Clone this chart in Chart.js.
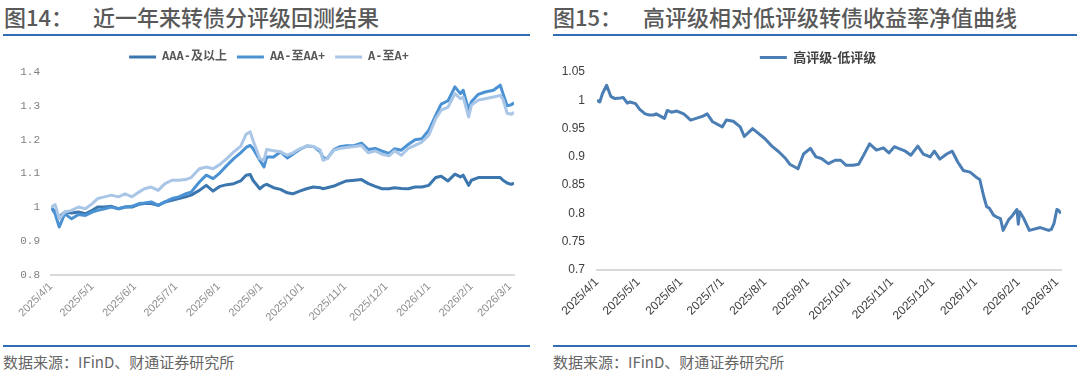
<!DOCTYPE html>
<html>
<head>
<meta charset="utf-8">
<script src="https://cdn.jsdelivr.net/npm/chart.js@4.4.1/dist/chart.umd.min.js"></script>
<style>
  body { margin: 0; background: #fff; width: 1080px; height: 378px; position: relative; overflow: hidden; font-family: "Noto Sans CJK SC", sans-serif; }
  .ttl { position: absolute; top: 2px; font-size: 22px; line-height: 29px; color: #595959; font-weight: 500; white-space: nowrap; }
  .rule { position: absolute; height: 2px; background: #2f6db5; }
  .src { position: absolute; top: 352px; font-size: 15px; line-height: 20px; color: #666; white-space: nowrap; }
  .box { position: absolute; top: 40px; height: 300px; }
</style>
</head>
<body>
<div class="ttl" style="left:4px">图14：</div>
<div class="ttl" style="left:93px">近一年来转债分评级回测结果</div>
<div class="ttl" style="left:553px">图15：</div>
<div class="ttl" style="left:643px">高评级相对低评级转债收益率净值曲线</div>
<div class="rule" style="left:3px;width:527px;top:34px"></div>
<div class="rule" style="left:553px;width:524px;top:34px"></div>
<div class="box" style="left:0;width:540px"><canvas id="c14"></canvas></div>
<div class="box" style="left:545px;width:535px"><canvas id="c15"></canvas></div>
<div class="rule" style="left:3px;width:527px;top:345px"></div>
<div class="rule" style="left:553px;width:524px;top:345px"></div>
<div class="src" style="left:3px">数据来源：IFinD、财通证券研究所</div>
<div class="src" style="left:553px">数据来源：IFinD、财通证券研究所</div>

<script>
// 图14 数据
const dates14 = ['2025-04-01','2025-04-04','2025-04-07','2025-04-11','2025-04-16','2025-04-21','2025-04-26','2025-05-01','2025-05-05','2025-05-10','2025-05-15','2025-05-20','2025-05-25','2025-05-30','2025-06-04','2025-06-08','2025-06-13','2025-06-18','2025-06-23','2025-06-28','2025-07-03','2025-07-08','2025-07-12',
  '2025-07-18','2025-07-23','2025-07-28','2025-08-02','2025-08-07','2025-08-12','2025-08-17','2025-08-21','2025-08-24','2025-08-26','2025-08-31','2025-09-03','2025-09-05','2025-09-10','2025-09-15','2025-09-20','2025-09-24','2025-09-29','2025-10-04','2025-10-09','2025-10-14','2025-10-16','2025-10-19','2025-10-24','2025-10-28','2025-11-02',
  '2025-11-08','2025-11-13','2025-11-18','2025-11-23','2025-11-28','2025-12-03','2025-12-07','2025-12-12','2025-12-17','2025-12-22','2025-12-27','2026-01-01','2026-01-06','2026-01-10','2026-01-15','2026-01-20','2026-01-24','2026-01-26','2026-01-30','2026-02-01','2026-02-06','2026-02-11','2026-02-17','2026-02-22','2026-02-24','2026-02-27','2026-03-02','2026-03-04'];
const aaaPlus = [1.000,0.986,0.971,0.986,0.983,0.986,0.981,0.991,1.001,1.001,1.003,0.996,1.001,1.001,1.009,1.011,1.011,1.006,1.016,1.021,1.026,1.031,1.036,
  1.050,1.065,1.048,1.062,1.067,1.070,1.078,1.095,1.097,1.080,1.055,1.065,1.068,1.058,1.053,1.043,1.040,1.048,1.055,1.060,1.058,1.055,1.058,1.063,1.070,1.078,
  1.080,1.082,1.070,1.062,1.055,1.055,1.058,1.056,1.055,1.060,1.060,1.065,1.088,1.092,1.078,1.098,1.090,1.095,1.065,1.080,1.088,1.088,1.088,1.088,1.080,1.072,1.068,1.072];
const aaRange = [1.000,0.981,0.942,0.981,0.966,0.979,0.976,0.986,0.991,0.996,1.001,0.996,1.001,1.003,1.011,1.013,1.016,1.006,1.016,1.026,1.031,1.040,1.045,
  1.075,1.095,1.085,1.102,1.124,1.144,1.161,1.177,1.183,1.174,1.139,1.119,1.149,1.149,1.164,1.146,1.157,1.171,1.181,1.180,1.164,1.147,1.144,1.171,1.179,1.182,
  1.183,1.190,1.171,1.174,1.166,1.159,1.173,1.169,1.186,1.200,1.203,1.228,1.272,1.305,1.315,1.356,1.336,1.346,1.287,1.312,1.334,1.341,1.346,1.361,1.336,1.300,1.303,1.309];
const aRange = [1.000,1.008,0.966,0.986,0.991,1.001,0.996,1.011,1.026,1.031,1.036,1.031,1.040,1.031,1.045,1.055,1.060,1.050,1.070,1.080,1.080,1.082,1.088,
  1.114,1.119,1.114,1.127,1.144,1.164,1.180,1.216,1.223,1.198,1.144,1.139,1.171,1.167,1.164,1.154,1.161,1.173,1.181,1.180,1.169,1.139,1.144,1.169,1.174,1.177,
  1.180,1.183,1.161,1.167,1.157,1.152,1.167,1.154,1.174,1.183,1.193,1.213,1.262,1.287,1.296,1.336,1.321,1.326,1.267,1.302,1.317,1.321,1.326,1.331,1.319,1.278,1.275,1.281];
const yTicks14 = [0.8, 0.9, 1, 1.1, 1.2, 1.3, 1.4];

// 图15 数据
const dates15 = ['2025-04-01','2025-04-03','2025-04-05','2025-04-08','2025-04-11','2025-04-14','2025-04-18','2025-04-20','2025-04-23','2025-04-25','2025-04-29','2025-05-02','2025-05-06','2025-05-09','2025-05-12','2025-05-14','2025-05-17','2025-05-20','2025-05-22','2025-05-25','2025-05-29','2025-06-03','2025-06-08','2025-06-12','2025-06-17','2025-06-20','2025-06-24','2025-07-01','2025-07-04','2025-07-09','2025-07-14','2025-07-17',
  '2025-07-23','2025-07-27','2025-08-01','2025-08-06','2025-08-11','2025-08-16','2025-08-19','2025-08-25','2025-08-29','2025-09-03','2025-09-07','2025-09-11','2025-09-16','2025-09-21','2025-09-25','2025-09-29','2025-10-04','2025-10-08','2025-10-11','2025-10-16','2025-10-21','2025-10-26','2025-10-30','2025-11-03',
  '2025-11-05','2025-11-11','2025-11-15','2025-11-20','2025-11-24','2025-11-29','2025-12-02','2025-12-06','2025-12-11','2025-12-15','2025-12-19','2025-12-23','2025-12-28','2026-01-02','2026-01-04','2026-01-07','2026-01-09','2026-01-11','2026-01-14','2026-01-16','2026-01-19','2026-01-21','2026-01-25','2026-01-27','2026-01-31','2026-02-01','2026-02-02','2026-02-05','2026-02-09','2026-02-17','2026-02-23','2026-02-25','2026-02-27','2026-03-01','2026-03-02','2026-03-04'];
const highVsLow = [1.000,0.997,1.012,1.0265,1.007,1.003,1.004,1.005,0.995,0.997,0.994,0.984,0.976,0.974,0.974,0.976,0.972,0.968,0.982,0.979,0.981,0.976,0.965,0.968,0.972,0.976,0.962,0.953,0.965,0.963,0.953,0.936,
  0.950,0.942,0.932,0.919,0.909,0.897,0.887,0.879,0.905,0.915,0.900,0.897,0.888,0.894,0.894,0.885,0.885,0.887,0.900,0.923,0.912,0.916,0.907,0.918,
  0.916,0.910,0.903,0.919,0.905,0.900,0.910,0.896,0.905,0.910,0.891,0.876,0.873,0.863,0.860,0.829,0.812,0.809,0.797,0.794,0.791,0.770,0.789,0.794,0.807,0.781,0.803,0.791,0.770,0.775,0.770,0.772,0.783,0.807,0.806,0.800];
const yTicks15 = [0.7, 0.75, 0.8, 0.85, 0.9, 0.95, 1, 1.05];

const xTickLabels = ['2025/4/1','2025/5/1','2025/6/1','2025/7/1','2025/8/1','2025/9/1','2025/10/1','2025/11/1','2025/12/1','2026/1/1','2026/2/1','2026/3/1'];

// 以2025/4/1为起点的天数
function dayOffset(s) {
  const p = s.split(/[-\/]/).map(Number);
  return (Date.UTC(p[0], p[1] - 1, p[2]) - Date.UTC(2025, 3, 1)) / 86400000;
}
function toPoints(dates, vals) {
  return dates.map((d, i) => ({ x: dayOffset(d), y: vals[i] }));
}

// 图例高度固定，并整体右移 dx
function legendTweak(h, dx) {
  return {
    id: 'legendTweak',
    beforeInit(chart) {
      const fit = chart.legend.fit;
      chart.legend.fit = function () { fit.call(this); this.height = h; };
    },
    afterUpdate(chart) {
      const lg = chart.legend;
      lg.left += dx;
      lg.right += dx;
      lg.adjustHitBoxes();
    }
  };
}

const baseLabels = Chart.defaults.plugins.legend.labels.generateLabels;

function lineSet(label, data, color, order) {
  return {
    label: label, data: data, borderColor: color, backgroundColor: color,
    borderWidth: 3, pointRadius: 0, tension: 0, order: order, borderJoinStyle: 'round'
  };
}

function makeOptions(cfg) {
  return {
    responsive: true,
    maintainAspectRatio: false,
    animation: false,
    layout: { padding: cfg.padding },
    plugins: {
      tooltip: { enabled: false },
      legend: {
        position: 'top',
        labels: {
          boxWidth: 27, boxHeight: 3, padding: cfg.legendPad,
          color: cfg.legendColor, font: cfg.legendFont,
          sort: (a, b) => a.datasetIndex - b.datasetIndex,
          generateLabels: ch => baseLabels(ch).map(l => Object.assign(l, { lineWidth: 0, fillStyle: l.strokeStyle }))
        }
      }
    },
    scales: {
      x: {
        type: 'linear', min: 0, max: cfg.xMax,
        afterBuildTicks: s => { s.ticks = xTickLabels.map(l => ({ value: dayOffset(l) })); },
        afterFit: s => { s.height = 60; },
        grid: { display: false, drawTicks: false },
        border: { display: true, color: '#d9d9d9', width: 2 },
        ticks: {
          autoSkip: false, maxRotation: 45, minRotation: 45, padding: 5,
          color: cfg.xColor, font: cfg.xFont,
          callback: (v, i) => xTickLabels[i]
        }
      },
      y: {
        min: cfg.yTicks[0], max: cfg.yTicks[cfg.yTicks.length - 1],
        afterBuildTicks: s => { s.ticks = cfg.yTicks.map(v => ({ value: v })); },
        afterFit: s => { s.width = cfg.yWidth; },
        grid: { display: false, drawTicks: false },
        border: { display: false },
        ticks: { padding: cfg.yPad, color: cfg.yColor, font: cfg.yFont, callback: v => String(v) }
      }
    }
  };
}

new Chart(document.getElementById('c14'), {
  type: 'line',
  data: {
    datasets: [
      lineSet('AAA-及以上', toPoints(dates14, aaaPlus), '#3b76ae', 3),
      lineSet('AA-至AA+', toPoints(dates14, aaRange), '#4a92d3', 2),
      lineSet('A-至A+', toPoints(dates14, aRange), '#a9c6e7', 1)
    ]
  },
  options: makeOptions({
    padding: { left: 0, right: 26, top: 1, bottom: 5 },
    legendPad: 10, legendColor: '#595959',
    legendFont: { family: "'Liberation Mono', 'Noto Sans CJK SC'", size: 12, weight: 'bold' },
    xMax: dayOffset(dates14[dates14.length - 1]),
    xColor: '#8c8c8c', xFont: { family: "'Liberation Sans'", size: 11 },
    yTicks: yTicks14, yWidth: 51, yPad: 11, yColor: '#7f7f7f',
    yFont: { family: "'Liberation Mono'", size: 11 }
  }),
  plugins: [legendTweak(31, 12)]
});

new Chart(document.getElementById('c15'), {
  type: 'line',
  data: {
    datasets: [
      lineSet('高评级-低评级', toPoints(dates15, highVsLow), '#4a7eb4', 1)
    ]
  },
  options: makeOptions({
    padding: { left: 0, right: 19, top: 1, bottom: 10 },
    legendPad: 10, legendColor: '#404040',
    legendFont: { family: "'Noto Sans CJK SC'", size: 13, weight: 'bold' },
    xMax: dayOffset(dates15[dates15.length - 1]),
    xColor: '#404040', xFont: { family: "'Liberation Sans'", size: 12 },
    yTicks: yTicks15, yWidth: 52, yPad: 12, yColor: '#404040',
    yFont: { family: "'Liberation Sans'", size: 12 }
  }),
  plugins: [legendTweak(31, 15)]
});
</script>
</body>
</html>
